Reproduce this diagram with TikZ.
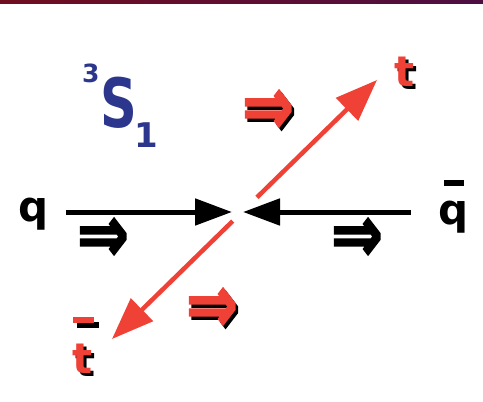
\documentclass[tikz,border=0pt]{standalone}
\usepackage{fontspec}
\setmainfont{DejaVu Sans}
\newfontfamily\spinfont[FakeBold=2.5]{DejaVu Sans Bold}
\usetikzlibrary{arrows.meta,positioning}

\definecolor{topred}{RGB}{112,14,32}
\definecolor{toppurple}{RGB}{78,14,66}
\definecolor{spinred}{RGB}{239,65,54}
\definecolor{statenavy}{RGB}{43,54,140}

\begin{document}
\begin{tikzpicture}[x=1pt, y=-1pt,
  lbl/.style={inner sep=0pt, font=\bfseries\fontsize{42}{42}\selectfont},
  bar/.style={inner sep=0pt},
  beam/.style={line width=5pt, -{Triangle[length=37pt,width=26pt]}},
  tquark/.style={spinred, line width=4.5pt, -{Triangle[length=42pt,width=31pt]}},
  spin/.style={inner sep=0pt, yscale=1.3, font=\spinfont\fontsize{62}{62}\selectfont},
  drop/.style={black, xshift=2.5pt, yshift=-2.5pt},
]
\useasboundingbox (0,0) rectangle (483,402);

% top band of the slide
\shade[left color=topred, right color=toppurple] (0,0) rectangle (483,3);

% incoming quark and antiquark
\node[lbl] (q) at (34,214) {q};
\node[lbl] (qb) at (454,217) {q};
\node[bar, above=14pt of qb] (qbbar) {\rule{20pt}{6pt}};
\coordinate (vtx) at (237.5,212);
\draw[beam, shorten <=17pt, shorten >=5.5pt] (q.east |- vtx) -- (vtx);
\draw[beam, shorten <=28pt, shorten >=5.5pt] (qb.west |- vtx) -- (vtx);

% outgoing top pair
\coordinate (cross) at (242,212);
\coordinate (ttip) at (377,80);
\coordinate (tbtip) at (112,339);
\draw[tquark, shorten <=21pt] (cross) -- (ttip);
\draw[tquark, shorten <=13pt] (cross) -- (tbtip);

\node[lbl, drop] (tsh) at (405,72) {t};
\node[lbl, spinred] (t) at (405,72) {t};
\node[lbl, drop] (tbsh) at (83,359) {t};
\node[lbl, spinred] (tb) at (83,359) {t};
\node[bar, drop, above=21pt of tbsh] (tbbarsh) {\rule{21pt}{6pt}};
\node[bar, spinred, above=21pt of tb] (tbbar) {\rule{21pt}{6pt}};

% spin state
\node[inner sep=0pt, anchor=base west, statenavy, font=\bfseries\fontsize{25}{25}\selectfont] (mult) at (82,82) {3};
\node[inner sep=0pt, anchor=base west, statenavy, xscale=0.75, font=\bfseries\fontsize{68}{68}\selectfont] (wave) at (100,127) {S};
\node[inner sep=0pt, anchor=base west, statenavy, font=\bfseries\fontsize{34}{34}\selectfont] (jval) at (134,147) {1};

% spin arrows
\node[spin, drop] (sp1sh) at (268,112) {⇒};
\node[spin, spinred] (sp1) at (268,112) {⇒};
\node[spin, drop] (sp2sh) at (212,310) {⇒};
\node[spin, spinred] (sp2) at (212,310) {⇒};
\node[spin] (sp3) at (103,240) {⇒};
\node[spin] (sp4) at (357,240) {⇒};
\end{tikzpicture}
\end{document}
